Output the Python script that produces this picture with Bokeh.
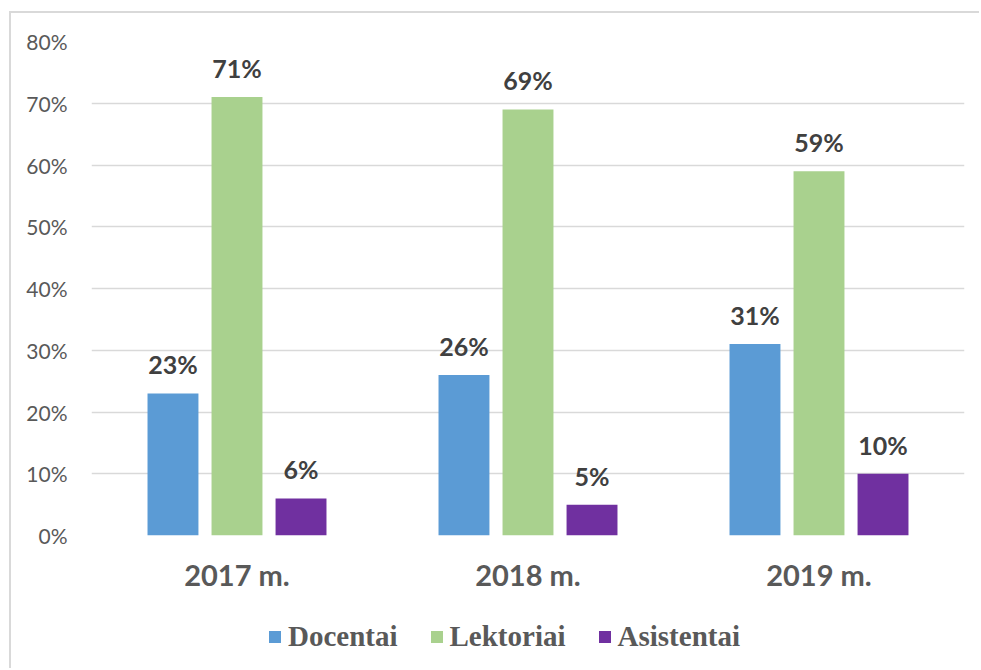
from bokeh.plotting import figure
from bokeh.layouts import column
from bokeh.models import ColumnDataSource, NumeralTickFormatter, FixedTicker, Legend, LegendItem, LabelSet
from bokeh.core.properties import value
from bokeh.transform import dodge
from bokeh.embed import file_html
from bokeh.resources import INLINE

years = ["2017 m.", "2018 m.", "2019 m."]
docentai = [0.23, 0.26, 0.31]
lektoriai = [0.71, 0.69, 0.59]
asistentai = [0.06, 0.05, 0.10]
series_names = ["Docentai", "Lektoriai", "Asistentai"]
colors = ["#5B9BD5", "#A9D18E", "#7030A0"]
y_ticks = [0.0, 0.1, 0.2, 0.3, 0.4, 0.5, 0.6, 0.7, 0.8]

def pct(v):
    return [f"{round(x*100)}%" for x in v]

src = ColumnDataSource(dict(
    years=years, d=docentai, l=lektoriai, a=asistentai,
    dl=pct(docentai), ll=pct(lektoriai), al=pct(asistentai),
))

p = figure(x_range=years, y_range=(0, 0.8), width=968, height=600,
           output_backend="svg", toolbar_location=None,
           min_border_left=80, min_border_right=15, min_border_top=28, min_border_bottom=78)
p.outline_line_color = None
p.xgrid.grid_line_color = None
p.ygrid.grid_line_color = "#d9d9d9"
p.ygrid.grid_line_width = 1.5
p.yaxis.ticker = FixedTicker(ticks=y_ticks)
p.yaxis.formatter = NumeralTickFormatter(format="0%")
for ax in (p.xaxis[0], p.yaxis[0]):
    ax.axis_line_color = None
    ax.major_tick_line_color = None
    ax.minor_tick_line_color = None
p.yaxis.major_label_text_font = "Lato"
p.yaxis.major_label_text_font_size = "21px"
p.yaxis.major_label_text_color = "#595959"
p.yaxis.major_label_standoff = 18
p.xaxis.major_label_text_font = "Lato"
p.xaxis.major_label_text_font_style = "bold"
p.xaxis.major_label_text_font_size = "29px"
p.xaxis.major_label_text_color = "#595959"
p.xaxis.major_label_standoff = 15

offsets = [-0.22, 0.0, 0.22]
fields = ["d", "l", "a"]
labels = ["dl", "ll", "al"]
for off, f, lab, c in zip(offsets, fields, labels, colors):
    p.vbar(x=dodge("years", off, range=p.x_range), top=f, width=0.175, source=src,
           fill_color=c, line_color=None)
    ls = LabelSet(x=dodge("years", off, range=p.x_range), y=f, text=lab, source=src,
                  text_align="center", text_baseline="alphabetic", y_offset=19,
                  text_font=value("Lato"), text_font_style="bold", text_font_size="25px",
                  text_color="#404040")
    p.add_layout(ls)

# legend strip below the chart
p2 = figure(x_range=years, y_range=(0, 0.8), width=968, height=55,
            output_backend="svg", toolbar_location=None,
            x_axis_location=None, y_axis_location=None,
            min_border_left=0, min_border_right=0, min_border_top=0, min_border_bottom=0)
p2.outline_line_color = None
p2.grid.grid_line_color = None
leg_renderers = []
for off, f, c in zip(offsets, fields, colors):
    r = p2.vbar(x=dodge("years", off, range=p2.x_range), top=f, width=0.175, source=src,
                fill_color=c, line_color=None, visible=False)
    leg_renderers.append(r)

legend = Legend(items=[LegendItem(label=n, renderers=[r]) for n, r in zip(series_names, leg_renderers)],
                orientation="horizontal", location=(176, 15),
                glyph_width=15, glyph_height=15, label_standoff=6, spacing=31, padding=0, margin=0,
                label_text_font="Liberation Serif", label_text_font_style="bold",
                label_text_font_size="29px", label_text_color="#595959",
                border_line_color=None, background_fill_alpha=0)
p2.add_layout(legend)

layout = column(p, p2, spacing=0)
layout.styles = {"border-left": "2px solid #d9d9d9", "border-top": "2px solid #d9d9d9",
                 "margin-left": "9px", "margin-top": "11px"}

open("out.html", "w").write(file_html(layout, INLINE))
